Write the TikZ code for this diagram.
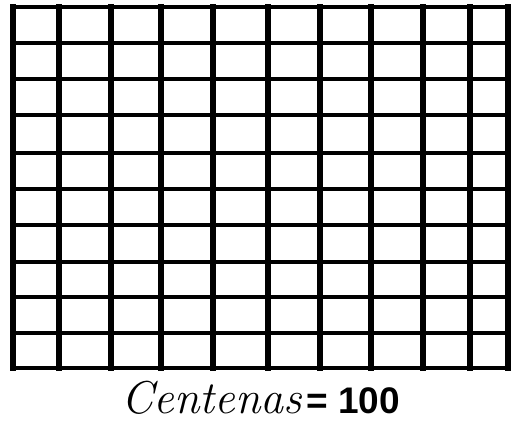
\documentclass[tikz,border=0pt]{standalone}
\usepackage{fontspec}
\usepackage{tikz}
\usetikzlibrary{positioning}
\newfontfamily\labelsans{Liberation Sans}
\tikzset{
  % thick ruling of the hundred-square
  vline/.style={line width=5.2pt, line cap=rect},
  hline/.style={line width=4.2pt, line cap=rect},
  % caption parts
  wordlabel/.style={font=\fontsize{46}{46}\selectfont\itshape, inner sep=0pt, anchor=base east},
  numlabel/.style={font=\labelsans\fontsize{37}{37}\selectfont\bfseries, inner sep=0pt, anchor=base west},
}
\begin{document}
\begin{tikzpicture}[x=1pt, y=-1pt]
  \useasboundingbox (0,0) rectangle (513,425);
  % columns of the grid
  \foreach \x in {13,59,111,161,213,268,320,371,423,470,508}
    \draw[vline] (\x,7) -- (\x,368);
  % rows of the grid
  \foreach \y in {7,43,79,115,153,189,225,262,297,333,368}
    \draw[hline] (13,\y) -- (508,\y);
  % caption
  \node[wordlabel] (word) at (302,413) {Centenas};
  \node[numlabel, right=4pt of word.base east, anchor=base west] (num) {= 100};
\end{tikzpicture}
\end{document}
